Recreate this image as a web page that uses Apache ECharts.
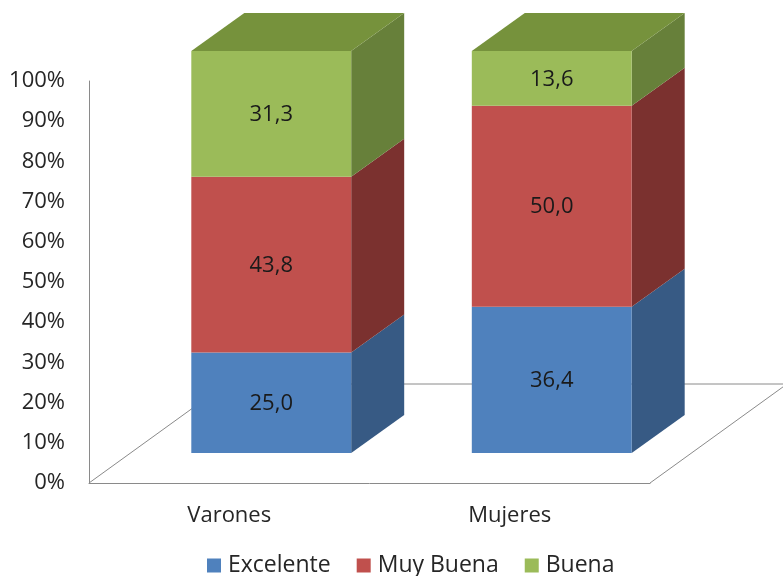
<!DOCTYPE html>
<html><head><meta charset="utf-8">
<script src="https://cdn.jsdelivr.net/npm/echarts@6/dist/echarts.min.js"></script>
<style>html,body{margin:0;padding:0;background:#fff}#c{width:783px;height:576px}</style>
</head><body><div id="c"></div>
<script>
// ---- data ----
const categories = ['Varones', 'Mujeres'];
const seriesNames = ['Excelente', 'Muy Buena', 'Buena'];
const excelente = [25.0, 36.4];
const muyBuena = [43.8, 50.0];
const buena = [31.3, 13.6];
const yTickMax = 100;
const yTickStep = 10;

// ---- styles ----
const frontColors = ['#4F81BD', '#C0504D', '#9BBB59'];
const sideColors = ['#375A84', '#7B312F', '#67803A'];
const topColors = ['#4A6E9C', '#95403D', '#76923C'];
const FONT = '"Open Sans", "Noto Sans", sans-serif';
const FS = 22;
const GRID = { left: 89, right: 133, top: 81, bottom: 93 };
const OFF = [42, -30];   // bar front plane offset from axis plane
const DEP = [53, -38];   // bar depth
const FLOOR = [137, -99];// floor depth
const HALF = 0.285;      // half bar width as fraction of band

const values = [excelente, muyBuena, buena];
const totals = categories.map((c, i) => values.reduce((s, arr) => s + arr[i], 0));
const seriesData = values.map((arr, si) => arr.map((v, ci) => {
  let base = 0;
  for (let k = 0; k < si; k++) base += values[k][ci];
  return [ci, base / totals[ci] * 100, (base + v) / totals[ci] * 100, v];
}));

function renderItem(params, api) {
  const ci = api.value(0), s = api.value(1), e = api.value(2), raw = api.value(3);
  const pb = api.coord([ci, s]), pt = api.coord([ci, e]);
  const band = api.size([1, 0])[0];
  const half = band * HALF;
  const cx = pb[0] + OFF[0];
  const x0 = cx - half, x1 = cx + half;
  const yb = pb[1] + OFF[1], yt = pt[1] + OFF[1];
  const si = params.seriesIndex;
  const children = [
    { type: 'polygon', shape: { points: [[x1, yb], [x1 + DEP[0], yb + DEP[1]], [x1 + DEP[0], yt + DEP[1]], [x1, yt]] },
      style: { fill: sideColors[si] } },
    { type: 'rect', shape: { x: x0, y: yt, width: x1 - x0, height: yb - yt }, style: { fill: frontColors[si] } }
  ];
  if (si === values.length - 1) {
    children.push({ type: 'polygon', shape: { points: [[x0, yt], [x1, yt], [x1 + DEP[0], yt + DEP[1]], [x0 + DEP[0], yt + DEP[1]]] },
      style: { fill: topColors[si] } });
  }
  children.push({ type: 'text', style: { text: raw.toFixed(1).replace('.', ','), x: cx, y: (yb + yt) / 2 + 1,
    align: 'center', verticalAlign: 'middle', fontSize: FS, fontFamily: FONT, fill: '#1a1a1a' } });
  return { type: 'group', children };
}

const W = 783, H = 576;
const fl = GRID.left, fr = W - GRID.right, fb = H - GRID.bottom;
const lineStyle = { stroke: '#8a8a8a', lineWidth: 1 };

const chart = echarts.init(document.getElementById('c'));
chart.setOption({
  animation: false,
  backgroundColor: '#fff',
  grid: GRID,
  xAxis: {
    type: 'category', data: categories,
    axisLine: { show: true, lineStyle: { color: '#8a8a8a' } },
    axisTick: { show: false },
    axisLabel: { margin: 22, fontSize: FS, fontFamily: FONT, color: '#262626' },
    splitLine: { show: false }
  },
  yAxis: {
    type: 'value', min: 0, max: yTickMax, interval: yTickStep,
    axisLine: { show: true, lineStyle: { color: '#8a8a8a' } },
    axisTick: { show: false },
    splitLine: { show: false },
    axisLabel: { formatter: '{value}%', margin: 24, fontSize: FS, fontFamily: FONT, color: '#262626' }
  },
  legend: {
    data: seriesNames, left: 207, top: 554, itemWidth: 14, itemHeight: 14, itemGap: 26, padding: 0,
    icon: 'rect',
    textStyle: { fontSize: 23, fontFamily: FONT, color: '#262626', padding: [0, 0, 0, 2] }
  },
  graphic: [
    { type: 'polyline', z: 0, silent: true,
      shape: { points: [[fl, fb], [fl + FLOOR[0], fb + FLOOR[1]], [fr + FLOOR[0], fb + FLOOR[1]]] }, style: lineStyle },
    { type: 'line', z: 0, silent: true,
      shape: { x1: fr, y1: fb, x2: fr + FLOOR[0], y2: fb + FLOOR[1] }, style: lineStyle }
  ],
  series: seriesNames.map((name, si) => ({
    type: 'custom', name, z: 5,
    itemStyle: { color: frontColors[si] },
    renderItem,
    encode: { x: 0, y: [1, 2] },
    data: seriesData[si]
  }))
});
</script>
</body></html>
